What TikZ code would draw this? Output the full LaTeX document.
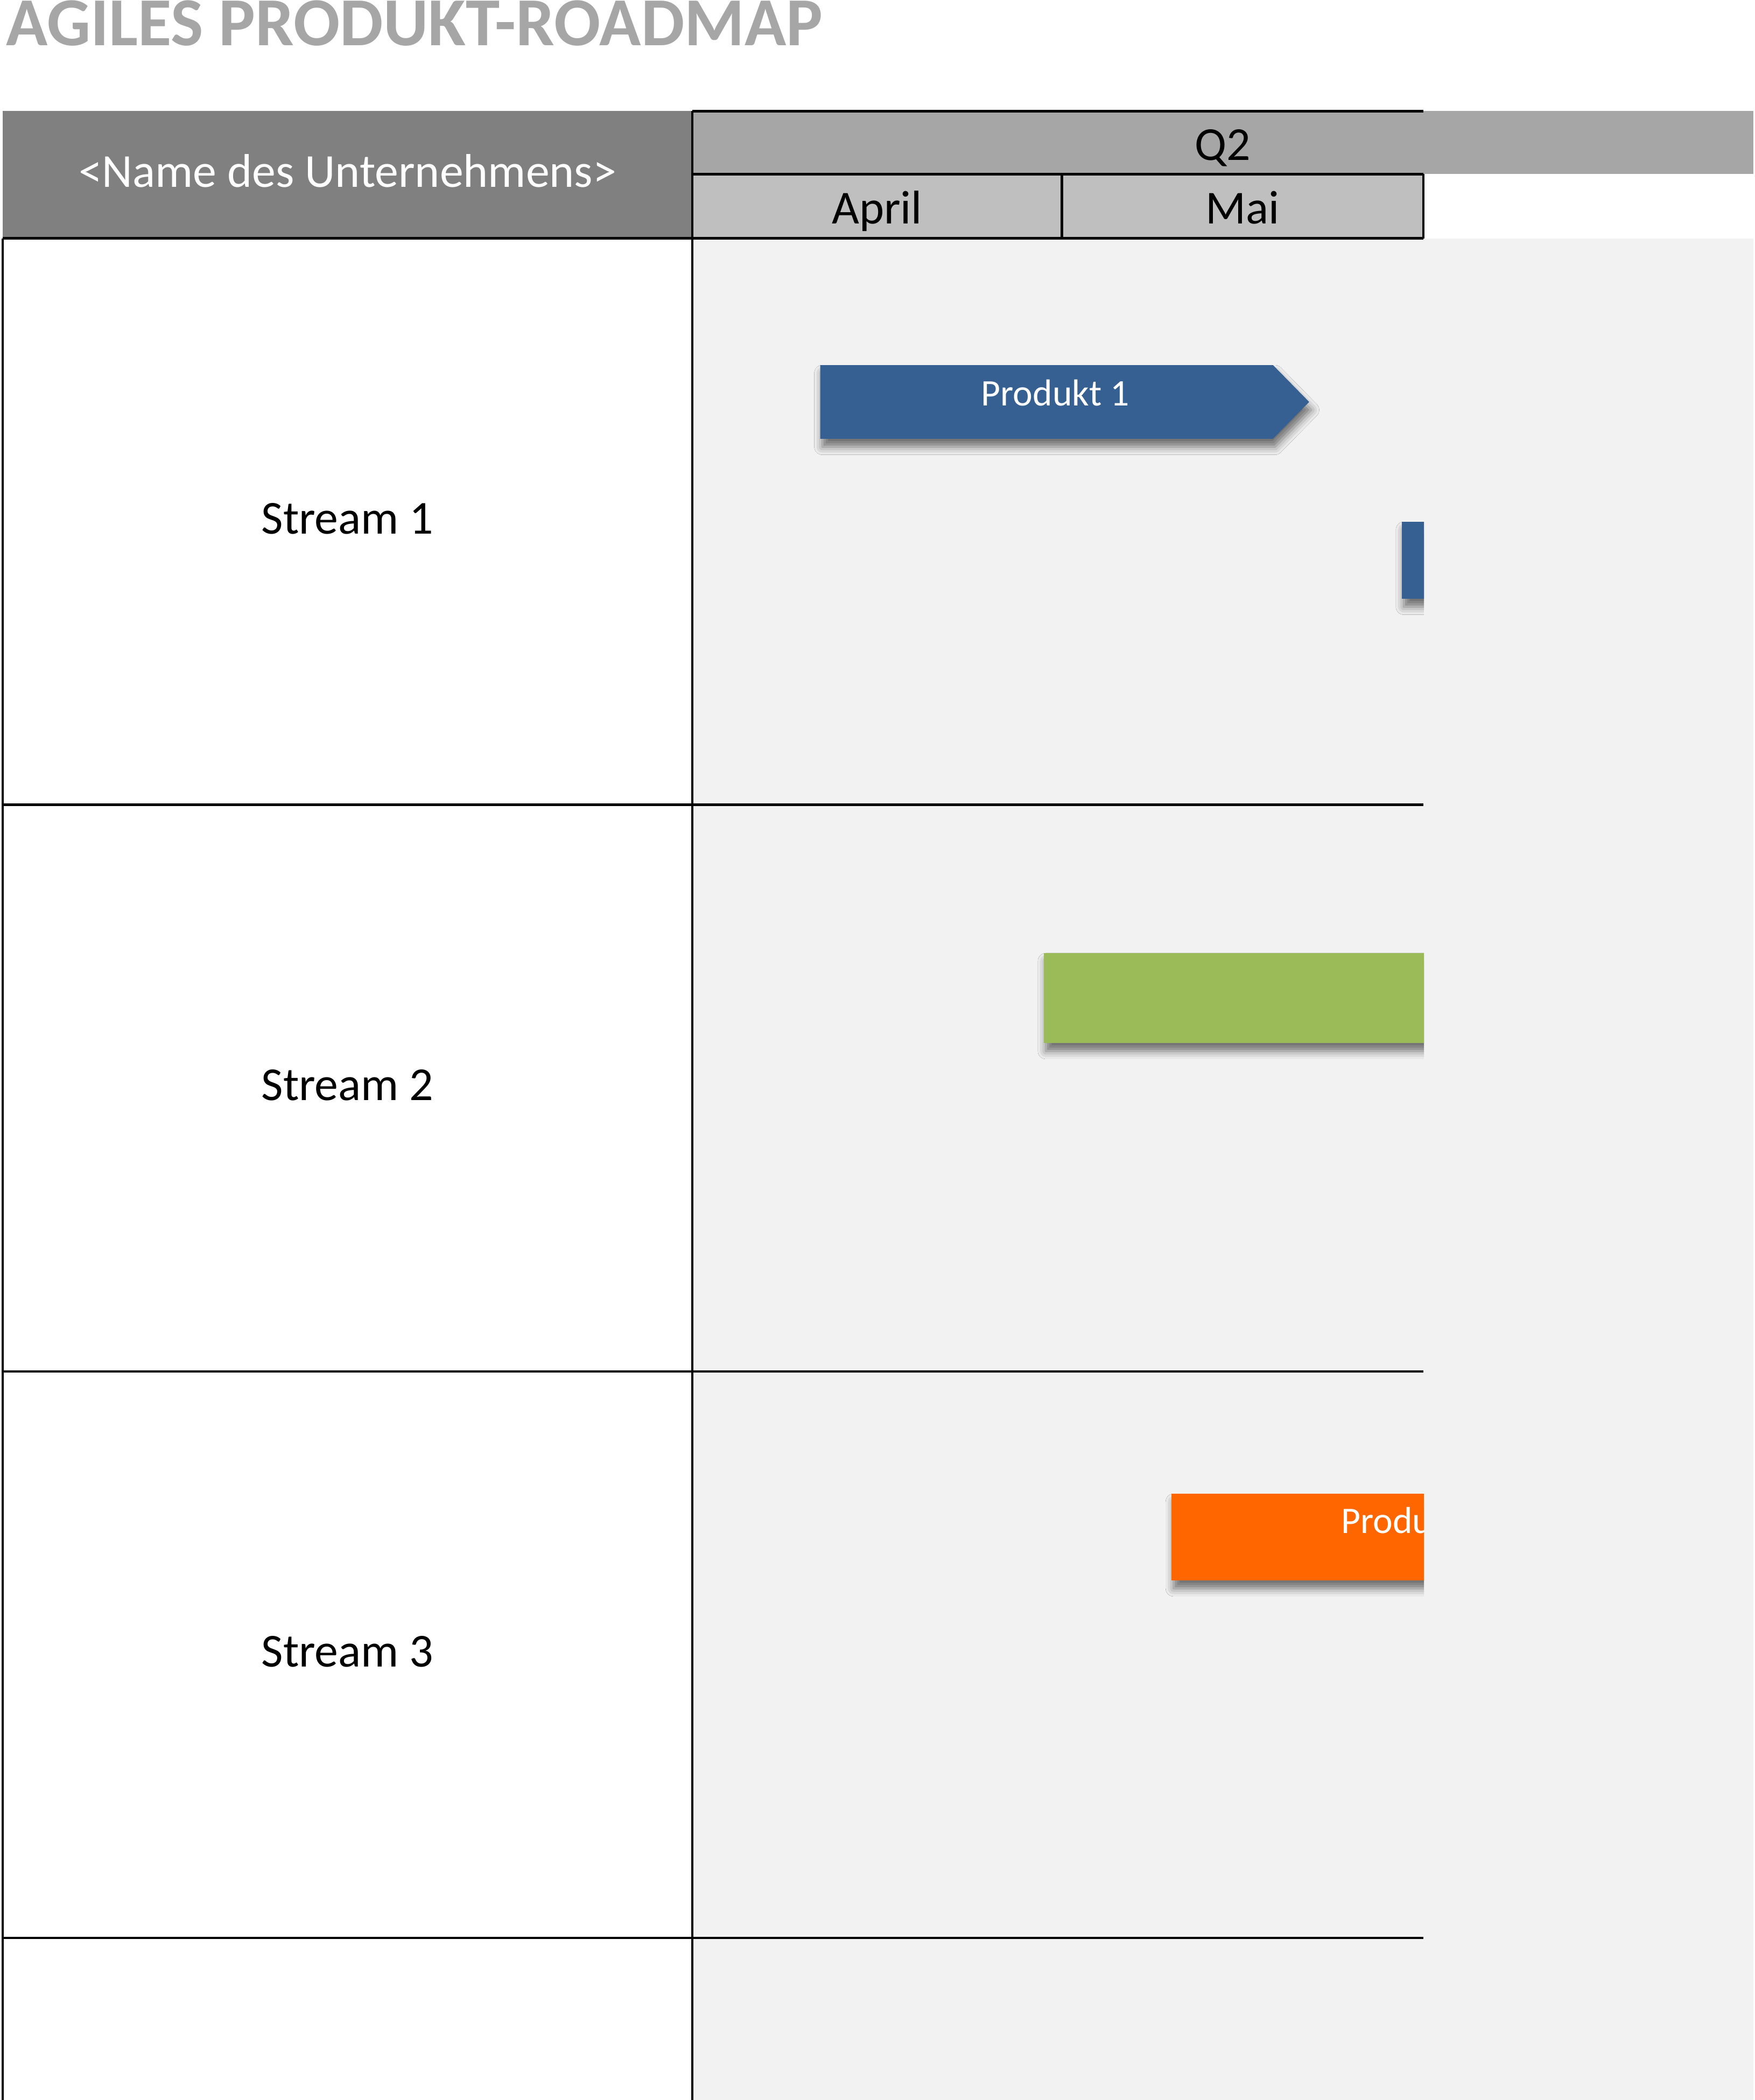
\documentclass[tikz,border=0pt]{standalone}
\usepackage{fontspec}
\setmainfont{Carlito}
\usetikzlibrary{positioning}
\usetikzlibrary{shadows.blur}

\definecolor{titlegrey}{HTML}{A6A6A6}
\definecolor{companygrey}{HTML}{808080}
\definecolor{quartergrey}{HTML}{A6A6A6}
\definecolor{monthgrey}{HTML}{BFBFBF}
\definecolor{bodygrey}{HTML}{F2F2F2}
\definecolor{prodblue}{HTML}{366092}
\definecolor{prodgreen}{HTML}{9BBB59}
\definecolor{prodorange}{HTML}{FF6600}

\begin{document}
\begin{tikzpicture}[x=1pt, y=-1pt,
    cell/.style={anchor=north west, inner sep=0pt, outer sep=0pt},
    gridline/.style={draw=black, line width=1.9pt},
    headline/.style={draw=black, line width=2.2pt},
    celltext/.style={font=\fontsize{35.3}{42}\selectfont},
    streamlabel/.style={celltext, anchor=base, inner sep=0pt},
    bar/.style={anchor=north west, inner sep=0pt, outer sep=0pt,
        blur shadow={shadow xshift=1.5pt, shadow yshift=-6pt, shadow blur radius=6pt, shadow opacity=55}},
    bartext/.style={font=\fontsize{28}{34}\selectfont, text=white, anchor=base, inner sep=0pt}]
    \useasboundingbox (0,0) rectangle (1310.3,1568);
    % title
    \node[anchor=base west, inner sep=0pt, text=titlegrey, font=\fontsize{51.3}{60}\selectfont\bfseries] (title) at (4.5,34) {AGILES PRODUKT-ROADMAP};
    % header
    \node[cell, fill=companygrey, minimum width=515pt, minimum height=95pt] (company) at (2,83) {};
    \node[celltext, text=white, anchor=base, inner sep=0pt] (companyname) at (259.5,139.8) {<Name des Unternehmens>};
    \node[cell, fill=quartergrey, minimum width=792.3pt, minimum height=47pt] (quarter) at (517,83) {};
    \node[celltext, anchor=base, inner sep=0pt] (q2) at (913,119.6) {Q2};
    \node[cell, fill=monthgrey, minimum width=276pt, minimum height=48pt] (april) at (517,130) {};
    \node[cell, fill=monthgrey, minimum width=270pt, minimum height=48pt, right=0pt of april.north east, anchor=north west] (mai) {};
    \node[celltext, anchor=base, inner sep=0pt] (aprilname) at (655,167) {April};
    \node[celltext, anchor=base, inner sep=0pt] (mainame) at (928,167) {Mai};
    % body
    \fill[bodygrey] (517,178) rectangle (1309.3,1568);
    \node[streamlabel] (stream1) at (259.5,398.7) {Stream 1};
    \node[streamlabel] (stream2) at (259.5,821.7) {Stream 2};
    \node[streamlabel] (stream3) at (259.5,1244.7) {Stream 3};
    % bars, cut off at the visible edge
    \begin{scope}
        \clip (517,178) rectangle (1063.5,1568);
        \draw[bar, fill=prodblue, draw=none] (612.6,272.6) -- (950.7,272.6) -- (977.7,300.1) -- (950.7,327.6) -- (612.6,327.6) -- cycle;
        \node[bartext] (prod1) at (788,303) {Produkt 1};
        \node[bar, fill=prodblue, minimum width=60pt, minimum height=57.4pt] (prod1b) at (1046.9,389.6) {};
        \node[bar, fill=prodgreen, minimum width=330pt, minimum height=67.2pt] (prod2) at (779.6,711.6) {};
        \node[bar, fill=prodorange, minimum width=240pt, minimum height=64.7pt] (prod3) at (875,1115.3) {};
        \node[bartext, anchor=base west] (prod3name) at (1001.5,1145) {Produ};
    \end{scope}
    % grid lines
    \foreach \y in {178,601,1024,1447}
        \draw[gridline] (2,\y) -- (1063,\y);
    \draw[gridline] (2,178) -- (2,1568);
    \draw[gridline] (517,83) -- (517,1568);
    \draw[headline] (517,83) -- (1063,83);
    \draw[headline] (517,130) -- (1063,130);
    \draw[headline] (2,178) -- (1063,178);
    \draw[gridline] (april.north east) -- (april.south east);
    \draw[gridline] (mai.north east) -- (mai.south east);
\end{tikzpicture}
\end{document}
